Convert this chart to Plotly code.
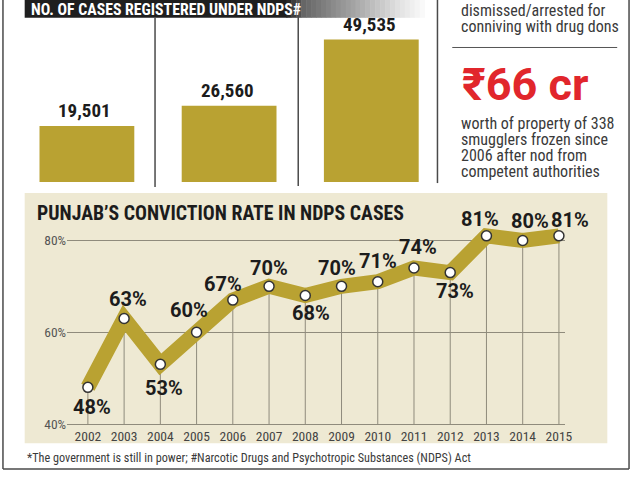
import plotly.graph_objects as go

W, H = 640, 478


def px(x):
    return x / W


def py(y):
    return 1 - y / H


# ---------------- data ----------------
case_periods = ["Period 1", "Period 2", "Period 3"]
case_counts = [19501, 26560, 49535]

years = list(range(2002, 2016))
conviction_rate = [48, 63, 53, 60, 67, 70, 68, 70, 71, 74, 73, 81, 80, 81]
rate_ticks = [40, 60, 80]

# label placement nudges (pixels) for the rate labels
label_dx = [4, 4, 4, -8, -10, 0, 6, -5, 0, 4, 5, -6, 7, 11]
label_dy = [-20, 19, -24, 22, 16, 18, -17, 18, 21, 21, -18, 17, 19, 16]

side_lines_1 = ["dismissed/arrested for", "conniving with drug dons"]
side_lines_2 = ["worth of property of 338", "smugglers frozen since",
                "2006 after nod from", "competent authorities"]

# ---------------- styles ----------------
NARROW = "'Noto Sans Condensed', 'Noto Sans SemiCondensed', 'Roboto Condensed', Roboto, sans-serif"
BOLD = "Roboto, 'Liberation Sans', Arial, sans-serif"
GOLD = "#B9A232"
BEIGE = "#EEE9D3"
GRID = "#8f8b7c"
INK = "#1c1c1c"
GREY_TXT = "#3a3a3a"

fig = go.Figure()

# bars
fig.add_trace(go.Bar(x=case_periods, y=case_counts, marker=dict(color=GOLD, line=dict(width=0)),
                     xaxis="x", yaxis="y", hoverinfo="skip", showlegend=False))

# drop lines from baseline to each point
dx, dy = [], []
for yr, v in zip(years, conviction_rate):
    dx += [yr, yr, None]
    dy += [rate_ticks[0], v, None]
fig.add_trace(go.Scatter(x=dx, y=dy, mode="lines", line=dict(color=GRID, width=1),
                         xaxis="x2", yaxis="y2", hoverinfo="skip", showlegend=False))

# thick line with markers
fig.add_trace(go.Scatter(x=years, y=conviction_rate, mode="lines+markers",
                         line=dict(color=GOLD, width=15),
                         marker=dict(size=10, color="white", line=dict(color="#333333", width=1.5)),
                         xaxis="x2", yaxis="y2", cliponaxis=False, hoverinfo="skip", showlegend=False))

annotations = []
shapes = []

# bar value labels
for c, v in zip(case_periods, case_counts):
    annotations.append(dict(x=c, y=v, xref="x", yref="y", text=f"{v:,}", showarrow=False,
                            yanchor="middle", yshift=15, xshift=-2,
                            font=dict(family=NARROW, size=19, color=INK, weight=700)))

# rate labels
for yr, v, ddx, ddy in zip(years, conviction_rate, label_dx, label_dy):
    annotations.append(dict(x=yr, y=v, xref="x2", yref="y2", text=f"{v}%", showarrow=False,
                            xanchor="center", yanchor="middle", xshift=ddx, yshift=ddy,
                            font=dict(family=BOLD, size=20, color=INK, weight=700)))

# beige panel
shapes.append(dict(type="rect", xref="paper", yref="paper", x0=px(25), x1=px(615), y0=py(448), y1=py(195),
                   fillcolor=BEIGE, line=dict(width=0), layer="below"))

# header bar with fade
shapes.append(dict(type="rect", xref="paper", yref="paper", x0=px(25), x1=px(291), y0=py(18), y1=py(-2),
                   fillcolor="#1f1f1f", line=dict(width=0), layer="below"))
stops = [(290, 0x2a), (305, 0x66), (360, 0xaa), (400, 0xe0), (430, 0xff)]
x = 290
while x < 430:
    for (a, ca), (b, cb) in zip(stops[:-1], stops[1:]):
        if a <= x < b:
            t = (x - a) / (b - a)
            c = int(ca + t * (cb - ca))
            break
    shapes.append(dict(type="rect", xref="paper", yref="paper", x0=px(x), x1=px(x + 5.5), y0=py(18), y1=py(-2),
                       fillcolor=f"rgb({c},{c},{c})", line=dict(width=0), layer="below"))
    x += 5

# frame and separators
LINE = dict(color="#4a4a4a", width=1.5)
for (x0, y0, x1, y1) in [(3, -2, 3, 474), (637, -2, 637, 474), (3, 474, 637, 474),
                         (157, 18, 157, 189), (302, -2, 302, 188), (443, -2, 443, 185)]:
    shapes.append(dict(type="line", xref="paper", yref="paper", x0=px(x0), x1=px(x1), y0=py(y0), y1=py(y1),
                       line=LINE, layer="above"))
shapes.append(dict(type="line", xref="paper", yref="paper", x0=px(458), x1=px(625), y0=py(48), y1=py(48),
                   line=dict(color="#555555", width=1), layer="above"))

# texts
annotations.append(dict(xref="paper", yref="paper", x=px(29), y=py(10), text="NO. OF CASES REGISTERED UNDER NDPS#",
                        xanchor="left", yanchor="middle", showarrow=False,
                        font=dict(family=NARROW, size=15.8, color="white", weight=700)))
annotations.append(dict(xref="paper", yref="paper", x=px(35), y=py(216), text="PUNJAB\u2019S CONVICTION RATE IN NDPS CASES",
                        xanchor="left", yanchor="middle", showarrow=False,
                        font=dict(family=NARROW, size=19.8, color=INK, weight=700)))
annotations.append(dict(xref="paper", yref="paper", x=px(25), y=py(463),
                        text="*The government is still in power; #Narcotic Drugs and Psychotropic Substances (NDPS) Act",
                        xanchor="left", yanchor="middle", showarrow=False,
                        font=dict(family=NARROW, size=12.2, color=GREY_TXT)))
for i, t in enumerate(side_lines_1):
    annotations.append(dict(xref="paper", yref="paper", x=px(465), y=py(11 + 16 * i), text=t,
                            xanchor="left", yanchor="middle", showarrow=False,
                            font=dict(family=NARROW, size=16, color=GREY_TXT)))
for i, t in enumerate(side_lines_2):
    annotations.append(dict(xref="paper", yref="paper", x=px(465), y=py(124.5 + 16.3 * i), text=t,
                            xanchor="left", yanchor="middle", showarrow=False,
                            font=dict(family=NARROW, size=16, color=GREY_TXT)))
annotations.append(dict(xref="paper", yref="paper", x=px(466), y=py(85), text="\u20b966 cr",
                        xanchor="left", yanchor="middle", showarrow=False,
                        font=dict(family=BOLD, size=45, color="#E1262C", weight=700)))

PXPER = 4.6375  # pixels per percentage point
B, T = 431, 196
ylo = 40 - (B - 428.5) / PXPER
yhi = 40 + (428.5 - T) / PXPER

fig.update_layout(
    width=W, height=H, margin=dict(l=0, r=0, t=0, b=0),
    paper_bgcolor="white", plot_bgcolor="rgba(0,0,0,0)",
    bargap=1 / 3,
    xaxis=dict(domain=[px(16), px(448)], range=[-0.5, 2.5], visible=False, anchor="y"),
    yaxis=dict(domain=[py(184), py(10)], range=[0, 59855], visible=False, anchor="x"),
    xaxis2=dict(domain=[px(68), px(572)], range=[2001.428, 2015.1635], anchor="y2",
                tickvals=years, ticktext=[str(y) for y in years], showgrid=False, zeroline=False,
                showline=False, ticks="", tickfont=dict(family=NARROW, size=13.5, color="#444444")),
    yaxis2=dict(domain=[py(B), py(T)], range=[ylo, yhi], anchor="x2",
                tickvals=rate_ticks, ticktext=[f"{t}%" for t in rate_ticks], showgrid=True,
                gridcolor=GRID, gridwidth=1, zeroline=False, showline=False, ticks="",
                tickfont=dict(family=NARROW, size=13.5, color="#555555")),
    shapes=shapes, annotations=annotations, showlegend=False,
)

fig.write_html("out.html")
